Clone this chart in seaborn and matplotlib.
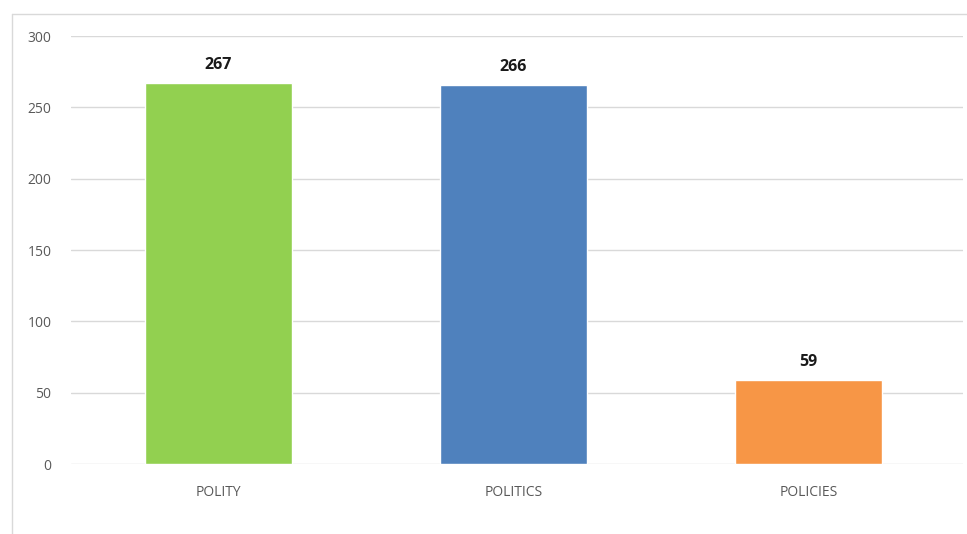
import matplotlib
matplotlib.use("Agg")
import matplotlib.pyplot as plt
import seaborn as sns
import pandas as pd
from matplotlib.lines import Line2D

categories = ["POLITY", "POLITICS", "POLICIES"]
values = [267, 266, 59]
colors = ["#92D050", "#4F81BD", "#F79646"]
yticks = [0, 50, 100, 150, 200, 250, 300]

sns.set_theme(style="white")
plt.rcParams["font.family"] = ["Open Sans", "DejaVu Sans"]

df = pd.DataFrame({"category": categories, "value": values})

fig = plt.figure(figsize=(9.67, 5.34), dpi=100)
ax = fig.add_axes([71/967, 70/534, (963-71)/967, (464-36)/534])

sns.barplot(data=df, x="category", y="value", hue="category",
            palette=dict(zip(categories, colors)), legend=False,
            width=0.5, ax=ax, saturation=1)

ax.set_ylim(0, 300)
ax.set_xlim(-0.5, 2.5 + 7/295)
ax.set_yticks(yticks)
ax.yaxis.grid(True, color="#D9D9D9", linewidth=1)
ax.set_axisbelow(True)
for s in ax.spines.values():
    s.set_visible(False)
ax.set_xlabel("")
ax.set_ylabel("")
ax.tick_params(axis="y", length=0, pad=14, labelsize=10, labelcolor="#595959")
ax.tick_params(axis="x", length=0, pad=15, labelsize=10, labelcolor="#595959")

for i, v in enumerate(values):
    ax.annotate(str(v), (i, v), xytext=(0, 7), textcoords="offset points",
                ha="center", va="bottom", fontsize=11.5, fontweight="bold", color="#1a1a1a")

# outer chart frame (top and left visible)
fig.add_artist(Line2D([12/967, 1], [1-14/534, 1-14/534], transform=fig.transFigure,
                      color="#D9D9D9", linewidth=1))
fig.add_artist(Line2D([12/967, 12/967], [0, 1-14/534], transform=fig.transFigure,
                      color="#D9D9D9", linewidth=1))

fig.savefig("out.png", dpi=100)
